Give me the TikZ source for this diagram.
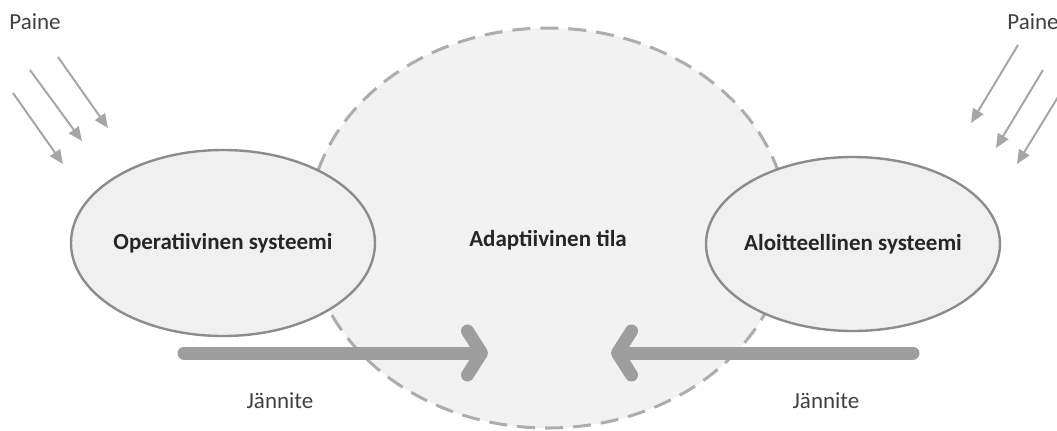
\documentclass[tikz,border=0pt]{standalone}
\usepackage{fontspec}
\setmainfont{Carlito}
\usetikzlibrary{shapes.geometric, positioning, arrows.meta}

\begin{document}
\begin{tikzpicture}[x=0.5pt,y=-0.5pt,
% System and state style
    system/.style={ellipse,draw=black!45,line width=1.2pt,fill=black!6,
		inner sep=0pt},
    state/.style={ellipse,draw=black!32,line width=1.5pt,fill=black!5,
		dash pattern=on 9pt off 5pt,inner sep=0pt},
    title/.style={font=\fontsize{11.5}{14}\selectfont\bfseries,text=black!85},
% Label style
    tag/.style={font=\fontsize{11.5}{14}\selectfont,text=black!75},
% Arrow styles
    paine arrow/.style={draw=black!35,line width=1pt,
		-{Triangle[length=7pt,width=6pt]}},
    jannite arrow/.style={draw=black!38,line width=6.5pt,line cap=round,
		-{Straight Barb[round,length=7pt,width=22pt]}}
    ]
\useasboundingbox (0,0) rectangle (1057,430);
%% Draw state and systems
    \node (adapt) [state,minimum width=240pt,minimum height=200pt]
	at (548,228) {};
    \node (tila) [title] at (548,240) {Adaptiivinen tila};
    \node (oper) [system,minimum width=152pt,minimum height=93pt]
	at (223,243) {};
    \node (opertxt) [title] at (oper) {Operatiivinen systeemi};
    \node (aloi) [system,minimum width=147pt,minimum height=87pt]
	at (853,244) {};
    \node (aloitxt) [title] at (aloi) {Aloitteellinen systeemi};
%% Labels
    \node (pl) [tag] at (35,22) {Paine};
    \node (pr) [tag] at (1033,22) {Paine};
    \node (jl) [tag] at (280,401) {Jännite};
    \node (jr) [tag] at (826,401) {Jännite};
%% Tension arrows
    \coordinate (tl0) at (184,353);
    \coordinate (tl1) at (488,353);
    \coordinate (tr0) at (913,353);
    \coordinate (tr1) at (611,353);
    \draw [jannite arrow] (tl0) -- (tl1);
    \draw [jannite arrow] (tr0) -- (tr1);
%% Pressure arrows
    \foreach \i/\ax/\ay/\bx/\by in {1/58/57/108/128, 2/30/70/82/141,
		3/13/93/63/164} {
	\coordinate (la\i) at (\ax,\ay);
	\coordinate (lb\i) at (\bx,\by);
	\draw [paine arrow] (la\i) -- (lb\i);
    }
    \foreach \i/\ax/\ay/\bx/\by in {1/1018/45/971/123, 2/1043/70/996/148,
		3/1058/97/1017/164} {
	\coordinate (ra\i) at (\ax,\ay);
	\coordinate (rb\i) at (\bx,\by);
	\draw [paine arrow] (ra\i) -- (rb\i);
    }
\end{tikzpicture}
\end{document}
